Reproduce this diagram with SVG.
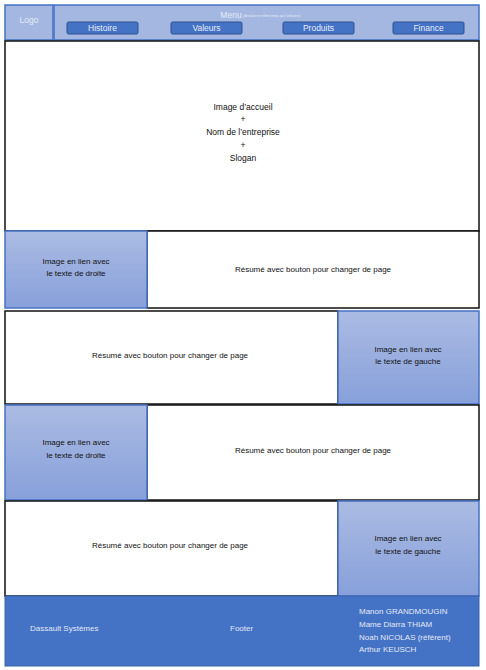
<svg xmlns="http://www.w3.org/2000/svg" width="486" height="670" viewBox="0 0 486 670">
<defs>
<linearGradient id="g" x1="0" y1="0" x2="0" y2="1">
<stop offset="0" stop-color="#abbbe3"/>
<stop offset="1" stop-color="#87a0da"/>
</linearGradient>
<style>
text{font-family:"Liberation Sans",Arial,sans-serif;font-size:8px;fill:#111;text-anchor:middle}
.hdr{fill:#a3b7e1;stroke:#4472c4;stroke-width:1.5}
.btn{fill:#4472c4;stroke:#2f528f;stroke-width:1}
.bt{fill:#e6ecf7;font-size:8.5px}
.box{fill:#ffffff;stroke:#111;stroke-width:1.5}
.img{fill:url(#g);stroke:#4472c4;stroke-width:1.5}
.ft{fill:#e3e9f6;text-anchor:start}
.hero{font-size:8.5px}
</style>
</defs>
<rect width="486" height="670" fill="#fff"/>
<g id="logo">
<rect class="hdr" x="5" y="5" width="48" height="35"/>
<text x="29" y="23" class="bt">Logo</text>
</g>
<g id="menu">
<rect class="hdr" x="54" y="5" width="425" height="35"/>
<text x="231" y="18" class="bt">Menu</text>
<text x="243" y="17" style="font-size:3px;fill:#e6ecf7;text-anchor:start">(déroulant en même temps que l'utilisateur)</text>
<g id="btn-histoire"><rect class="btn" x="67" y="22" width="71" height="12" rx="1.5"/><text class="bt" x="102.5" y="31">Histoire</text></g>
<g id="btn-valeurs"><rect class="btn" x="171" y="22" width="71" height="12" rx="1.5"/><text class="bt" x="206.5" y="31">Valeurs</text></g>
<g id="btn-produits"><rect class="btn" x="283" y="22" width="71" height="12" rx="1.5"/><text class="bt" x="318.5" y="31">Produits</text></g>
<g id="btn-finance"><rect class="btn" x="393" y="22" width="71" height="12" rx="1.5"/><text class="bt" x="428.5" y="31">Finance</text></g>
</g>
<g id="accueil">
<rect class="box" x="5" y="41" width="474" height="190"/>
<text class="hero" x="243" y="110">Image d’accueil</text>
<text class="hero" x="243" y="122">+</text>
<text class="hero" x="243" y="135">Nom de l’entreprise</text>
<text class="hero" x="243" y="148">+</text>
<text class="hero" x="243" y="161">Slogan</text>
</g>
<g id="row1">
<rect class="box" x="147" y="231" width="332" height="77"/>
<rect class="img" x="5" y="231" width="142" height="77"/>
<text x="76" y="264">Image en lien avec</text>
<text x="76" y="276">le texte de droite</text>
<text x="313" y="272">Résumé avec bouton pour changer de page</text>
</g>
<g id="row2">
<rect class="box" x="5" y="311" width="333" height="93"/>
<rect class="img" x="338" y="311" width="141" height="93"/>
<text x="170" y="358">Résumé avec bouton pour changer de page</text>
<text x="408" y="352">Image en lien avec</text>
<text x="408" y="364">le texte de gauche</text>
</g>
<g id="row3">
<rect class="box" x="147" y="405" width="332" height="95"/>
<rect class="img" x="5" y="405" width="142" height="95"/>
<text x="76" y="445">Image en lien avec</text>
<text x="76" y="458">le texte de droite</text>
<text x="313" y="453">Résumé avec bouton pour changer de page</text>
</g>
<g id="row4">
<rect class="box" x="5" y="501" width="333" height="95"/>
<rect class="img" x="338" y="501" width="141" height="95"/>
<text x="170" y="548">Résumé avec bouton pour changer de page</text>
<text x="408" y="541">Image en lien avec</text>
<text x="408" y="554">le texte de gauche</text>
</g>
<g id="footer">
<rect x="5" y="596" width="474" height="70" fill="#4472c4" stroke="#3a63ad" stroke-width="1"/>
<text class="ft" x="30" y="631">Dassault Systèmes</text>
<text class="ft" x="230" y="631">Footer</text>
<text class="ft" x="359" y="614">Manon GRANDMOUGIN</text>
<text class="ft" x="359" y="627">Mame Diarra THIAM</text>
<text class="ft" x="359" y="640">Noah NICOLAS (référent)</text>
<text class="ft" x="359" y="652">Arthur KEUSCH</text>
</g>
<g id="connectors"/>
</svg>
